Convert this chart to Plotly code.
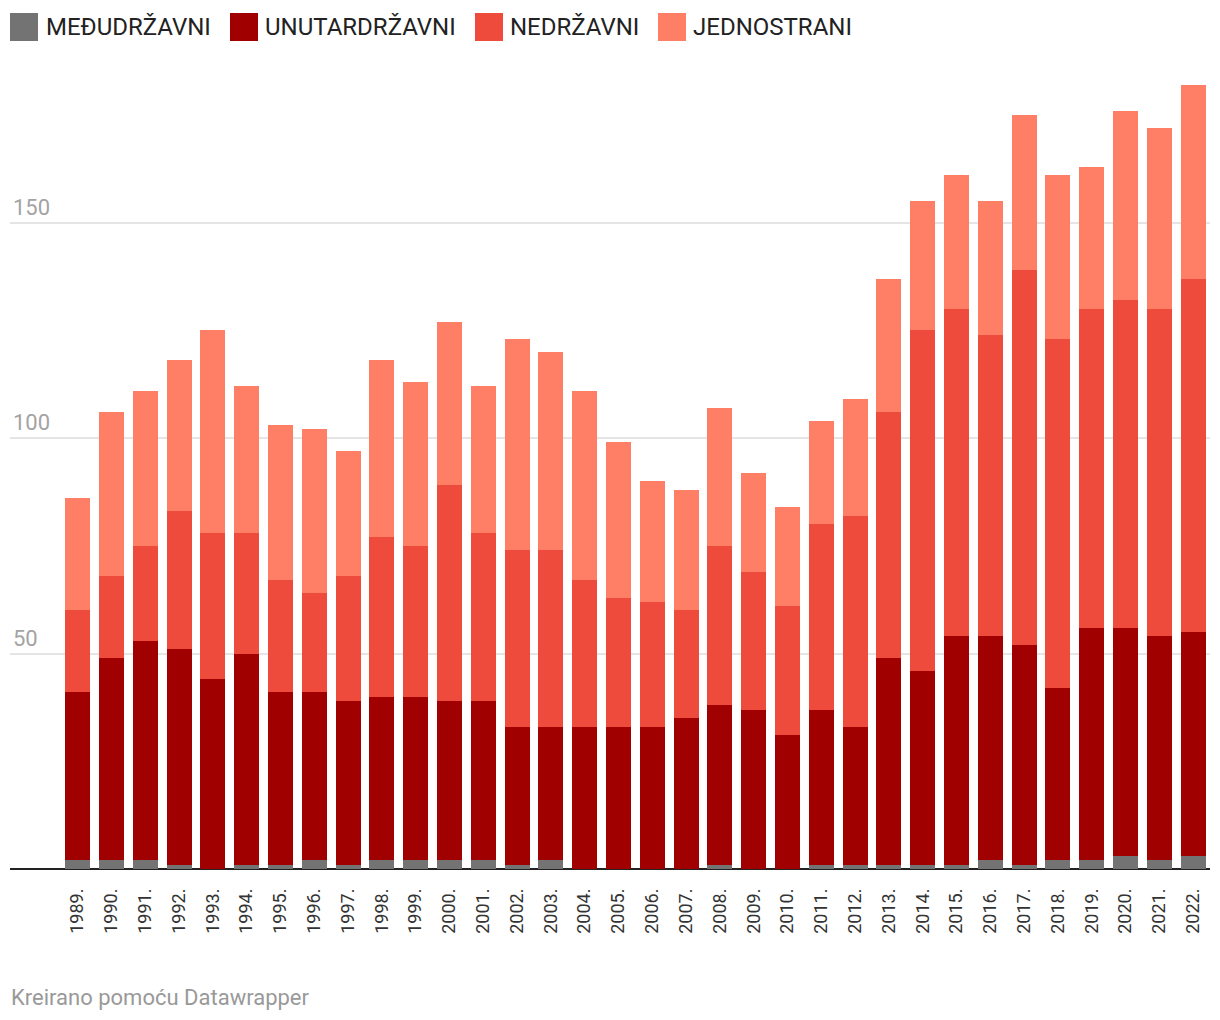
import plotly.graph_objects as go

years = [str(y) + "." for y in range(1989, 2023)]
medjudrzavni = [2, 2, 2, 1, 0, 1, 1, 2, 1, 2, 2, 2, 2, 1, 2, 0, 0, 0, 0, 1, 0, 0, 1, 1, 1, 1, 1, 2, 1, 2, 2, 3, 2, 3]
unutardrzavni = [39, 47, 51, 50, 44, 49, 40, 39, 38, 38, 38, 37, 37, 32, 31, 33, 33, 33, 35, 37, 37, 31, 36, 32, 48, 45, 53, 52, 51, 40, 54, 53, 52, 52]
nedrzavni = [19, 19, 22, 32, 34, 28, 26, 23, 29, 37, 35, 50, 39, 41, 41, 34, 30, 29, 25, 37, 32, 30, 43, 49, 57, 79, 76, 70, 87, 81, 74, 76, 76, 82]
jednostrani = [26, 38, 36, 35, 47, 34, 36, 38, 29, 41, 38, 38, 34, 49, 46, 44, 36, 28, 28, 32, 23, 23, 24, 27, 31, 30, 31, 31, 36, 38, 33, 44, 42, 45]

series_names = ["MEĐUDRŽAVNI", "UNUTARDRŽAVNI", "NEDRŽAVNI", "JEDNOSTRANI"]
series_values = [medjudrzavni, unutardrzavni, nedrzavni, jednostrani]
colors = ["#737373", "#a00000", "#ef4b3d", "#ff7f66"]
y_ticks = [50, 100, 150]

# page offset (body margin) compensation
OFF = 8
W, H = 1220 - 2 * OFF, 1020 - 2 * OFF
ML, MR, MT = 10 - OFF, 10 - OFF, 70 - OFF
MB = H - (869 - OFF)
PW, PH = W - ML - MR, H - MT - MB

def px_x(x):  # page pixel -> paper
    return (x - OFF - ML) / PW

def px_y(y):
    return (H - MB - (y - OFF)) / PH

fig = go.Figure()
for name, vals, col in zip(series_names, series_values, colors):
    fig.add_trace(go.Bar(x=years, y=vals, name=name, marker_color=col,
                         marker_line_width=0, showlegend=False))

fig.update_layout(
    barmode="stack",
    bargap=0.26,
    width=W, height=H,
    margin=dict(l=ML, r=MR, t=MT, b=MB, pad=0),
    plot_bgcolor="white", paper_bgcolor="white",
    font=dict(family="Roboto, sans-serif"),
)
fig.update_xaxes(type="category", range=[-2, 33.5], tickangle=-90,
                 tickfont=dict(size=18, color="#333333"), showgrid=False,
                 ticks="", ticklabelstandoff=15)
fig.update_yaxes(range=[0, 185.4], tickvals=y_ticks, ticktext=[str(v) for v in y_ticks],
                 ticklabelposition="inside top",
                 tickfont=dict(size=22, color="#a3a3a3"),
                 showgrid=True, gridcolor="#e5e5e5", gridwidth=2,
                 zeroline=True, zerolinecolor="#222222", zerolinewidth=2,
                 layer="below traces")

# custom legend
legend_pos = [(10, 44), (230, 263), (475, 508), (658, 691)]
for (sx, tx), name, col in zip(legend_pos, series_names, colors):
    fig.add_shape(type="rect", xref="paper", yref="paper",
                  x0=px_x(sx), x1=px_x(sx + 28), y0=px_y(41), y1=px_y(13),
                  fillcolor=col, line_width=0)
    fig.add_annotation(xref="paper", yref="paper", x=px_x(tx), y=px_y(27),
                       text=name, showarrow=False, xanchor="left", yanchor="middle",
                       font=dict(size=24, color="#222222"))

fig.add_annotation(xref="paper", yref="paper", x=px_x(9), y=px_y(997),
                   text="Kreirano pomoću Datawrapper", showarrow=False,
                   xanchor="left", yanchor="middle",
                   font=dict(size=22, color="#999999"))

fig.write_html("out.html")
